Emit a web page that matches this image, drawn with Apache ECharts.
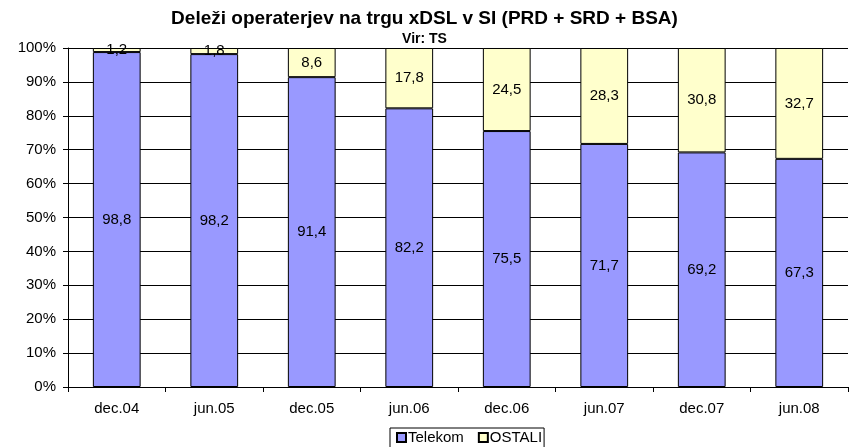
<!DOCTYPE html>
<html><head><meta charset="utf-8">
<script src="https://cdn.jsdelivr.net/npm/echarts@6/dist/echarts.min.js"></script>
<style>html,body{margin:0;padding:0;background:#fff}#c{width:849px;height:447px}</style>
</head><body><div id="c"></div>
<script>
var categories = ['dec.04','jun.05','dec.05','jun.06','dec.06','jun.07','dec.07','jun.08'];
var telekom = [98.8, 98.2, 91.4, 82.2, 75.5, 71.7, 69.2, 67.3];
var ostali = [1.2, 1.8, 8.6, 17.8, 24.5, 28.3, 30.8, 32.7];
var yTicks = [0,10,20,30,40,50,60,70,80,90,100];

var font = 'Liberation Sans, Arial, sans-serif';
function fmt(p){ return String(p.value).replace('.', ','); }
var chart = echarts.init(document.getElementById('c'));
chart.setOption({
  animation: false,
  title: [
    {text: 'Deleži operaterjev na trgu xDSL v SI (PRD + SRD + BSA)', left: 'center', top: 4,
     textStyle: {fontFamily: font, fontSize: 19, fontWeight: 'bold', color: '#000'}},
    {text: 'Vir: TS', left: 'center', top: 27,
     textStyle: {fontFamily: font, fontSize: 14, fontWeight: 'bold', color: '#000'}}
  ],
  legend: {
    bottom: -2, left: 390, itemWidth: 9, itemHeight: 9, itemGap: 14,
    borderColor: '#000', borderWidth: 1, padding: [2, 2, 4, 6],
    icon: 'rect',
    textStyle: {fontFamily: font, fontSize: 15, color: '#000', padding: [0,0,0,-3]},
    data: ['Telekom', 'OSTALI']
  },
  grid: {left: 68, right: 1, top: 48, bottom: 60, containLabel: false},
  xAxis: {
    type: 'category', data: categories,
    axisLine: {lineStyle: {color: '#000', width: 1}},
    axisTick: {show: true, length: 5, lineStyle: {color: '#000'}},
    axisLabel: {fontFamily: font, fontSize: 15, color: '#000', margin: 14}
  },
  yAxis: {
    type: 'value', min: 0, max: 100, interval: 10,
    axisLine: {show: true, lineStyle: {color: '#000'}},
    axisTick: {show: true, length: 5, lineStyle: {color: '#000'}},
    axisLabel: {fontFamily: font, fontSize: 15, color: '#000', margin: 12,
      formatter: function(v){ return yTicks.indexOf(v) >= 0 ? v + '%' : ''; }},
    splitLine: {lineStyle: {color: '#000', width: 1}}
  },
  series: [
    {name: 'Telekom', type: 'bar', stack: 's', data: telekom, barWidth: '49%',
     itemStyle: {color: '#9999FF', borderColor: '#000', borderWidth: 1},
     label: {show: true, position: 'inside', formatter: fmt, fontFamily: font, fontSize: 15, color: '#000'}},
    {name: 'OSTALI', type: 'bar', stack: 's', data: ostali, barWidth: '49%',
     itemStyle: {color: '#FFFFCC', borderColor: '#000', borderWidth: 1},
     label: {show: true, position: 'inside', formatter: fmt, fontFamily: font, fontSize: 15, color: '#000'}}
  ]
});
</script></body></html>
